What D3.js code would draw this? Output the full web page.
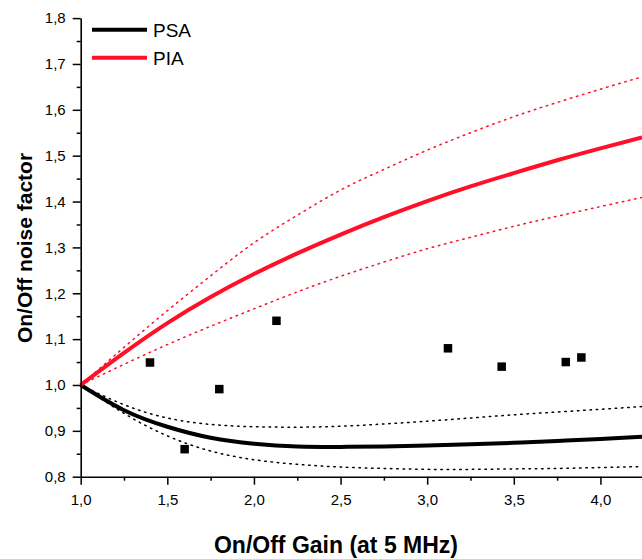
<!DOCTYPE html>
<html>
<head>
<meta charset="utf-8">
<script src="https://cdn.jsdelivr.net/npm/d3@7/dist/d3.min.js"></script>
<style>
  html, body { margin: 0; padding: 0; background: #fff; }
  svg { display: block; font-family: "Liberation Sans", Arial, sans-serif; }
</style>
</head>
<body>
<svg id="chart" width="642" height="559"></svg>
<script>
// On/off gain sample positions
const gain = [1.0, 1.25, 1.5, 1.75, 2.0, 2.25, 2.5, 2.75, 3.0, 3.25, 3.5, 3.75, 4.0, 4.24];

// Phase-sensitive amplifier: model and bounds
const psa      = [1.0, 0.945, 0.909, 0.885, 0.872, 0.866, 0.865, 0.866, 0.868, 0.871, 0.874, 0.878, 0.882, 0.887];
const psaUpper = [1.0, 0.957, 0.928, 0.914, 0.909, 0.908, 0.910, 0.915, 0.921, 0.928, 0.935, 0.941, 0.947, 0.953];
const psaLower = [1.0, 0.938, 0.889, 0.856, 0.837, 0.827, 0.821, 0.818, 0.816, 0.816, 0.817, 0.818, 0.820, 0.822];

// Phase-insensitive amplifier: model and bounds
const pia      = [1.0, 1.070, 1.135, 1.192, 1.242, 1.287, 1.328, 1.366, 1.401, 1.433, 1.462, 1.490, 1.516, 1.540];
const piaUpper = [1.0, 1.082, 1.162, 1.238, 1.310, 1.370, 1.425, 1.470, 1.512, 1.550, 1.585, 1.616, 1.645, 1.672];
const piaLower = [1.0, 1.045, 1.088, 1.128, 1.166, 1.203, 1.237, 1.268, 1.297, 1.322, 1.346, 1.368, 1.389, 1.409];

// Measured points
const measGain  = [1.40, 1.60, 1.80, 2.13, 3.12, 3.43, 3.80, 3.89];
const measNoise = [1.049, 0.860, 0.991, 1.140, 1.080, 1.040, 1.050, 1.060];

// Axis ticks
const xMajor = [1.0, 1.5, 2.0, 2.5, 3.0, 3.5, 4.0];
const xMinor = [1.25, 1.75, 2.25, 2.75, 3.25, 3.75];
const yMajor = [0.8, 0.9, 1.0, 1.1, 1.2, 1.3, 1.4, 1.5, 1.6, 1.7, 1.8];
const yMinor = [0.85, 0.95, 1.05, 1.15, 1.25, 1.35, 1.45, 1.55, 1.65, 1.75];

const legendLabels = ["PSA", "PIA"];
const RED = "#ff1028";

const svg = d3.select("#chart");
const mLeft = 80.7, mRight = 642, mTop = 18.1, mBottom = 476.7;

const x = d3.scaleLinear().domain([1.0, 4.24]).range([mLeft, mRight]);
const y = d3.scaleLinear().domain([0.8, 1.8]).range([mBottom, mTop]);
const comma = v => d3.format(".1f")(v).replace(".", ",");

// Curves
const line = d3.line().x(d => x(d[0])).y(d => y(d[1])).curve(d3.curveNatural);
const series = [
  { v: psaUpper, color: "#000", w: 1.5, dash: "1.5,4.8" },
  { v: psaLower, color: "#000", w: 1.5, dash: "1.5,4.8" },
  { v: piaUpper, color: RED, w: 1.5, dash: "1.5,4.8" },
  { v: piaLower, color: RED, w: 1.5, dash: "1.5,4.8" },
  { v: psa, color: "#000", w: 4, dash: null },
  { v: pia, color: RED, w: 4, dash: null }
];
const plot = svg.append("g");
series.forEach(s => {
  plot.append("path")
    .datum(gain.map((g, i) => [g, s.v[i]]))
    .attr("d", line)
    .attr("fill", "none")
    .attr("stroke", s.color)
    .attr("stroke-width", s.w)
    .attr("stroke-dasharray", s.dash)
    .attr("stroke-linecap", s.dash ? "round" : "butt");
});

// Measured squares
const ms = 8.5;
plot.selectAll("rect.meas")
  .data(measGain.map((g, i) => [g, measNoise[i]]))
  .join("rect")
  .attr("class", "meas")
  .attr("x", d => x(d[0]) - ms / 2)
  .attr("y", d => y(d[1]) - ms / 2)
  .attr("width", ms)
  .attr("height", ms)
  .attr("fill", "#000");

// Axes
function styleAxis(g) {
  g.selectAll("path.domain").attr("stroke", "#000").attr("stroke-width", 1.6);
  g.selectAll(".tick line").attr("stroke", "#000").attr("stroke-width", 1.5);
  g.selectAll(".tick text").attr("fill", "#000").style("font-size", "15px")
    .style("font-family", "'Liberation Sans', Arial, sans-serif");
}

const xAxis = svg.append("g").attr("transform", `translate(0,${mBottom})`)
  .call(d3.axisBottom(x).tickValues(xMajor).tickSize(8).tickPadding(6).tickSizeOuter(0).tickFormat(comma));
styleAxis(xAxis);
xAxis.selectAll(".tick text").attr("dy", "0.95em");
const xAxisMinor = svg.append("g").attr("transform", `translate(0,${mBottom})`)
  .call(d3.axisBottom(x).tickValues(xMinor).tickSize(4).tickFormat(""));
styleAxis(xAxisMinor);
xAxisMinor.select("path.domain").remove();

const yAxis = svg.append("g").attr("transform", `translate(${mLeft},0)`)
  .call(d3.axisLeft(y).tickValues(yMajor).tickSize(8).tickPadding(7).tickSizeOuter(0).tickFormat(comma));
styleAxis(yAxis);
const yAxisMinor = svg.append("g").attr("transform", `translate(${mLeft},0)`)
  .call(d3.axisLeft(y).tickValues(yMinor).tickSize(4).tickFormat(""));
styleAxis(yAxisMinor);
yAxisMinor.select("path.domain").remove();

// Axis titles
svg.append("text")
  .attr("x", 336).attr("y", 553)
  .attr("text-anchor", "middle")
  .style("font-size", "23px").style("font-weight", "bold")
  .text("On/Off Gain (at 5 MHz)");
svg.append("text")
  .attr("transform", "translate(32,248) rotate(-90)")
  .attr("text-anchor", "middle")
  .style("font-size", "21px").style("font-weight", "bold")
  .text("On/Off noise factor");

// Legend
const legend = svg.append("g");
[["#000", 29.7], [RED, 57.7]].forEach((d, i) => {
  legend.append("line")
    .attr("x1", 92).attr("x2", 147)
    .attr("y1", d[1]).attr("y2", d[1])
    .attr("stroke", d[0]).attr("stroke-width", 4);
  legend.append("text")
    .attr("x", 153).attr("y", d[1] + 7)
    .style("font-size", "19px")
    .text(legendLabels[i]);
});
</script>
</body>
</html>
